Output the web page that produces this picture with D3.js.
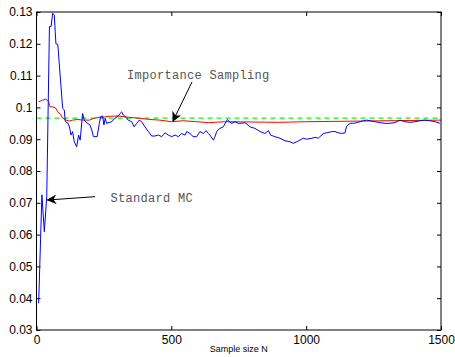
<!DOCTYPE html>
<html><head><meta charset="utf-8">
<script src="https://cdn.jsdelivr.net/npm/d3@7"></script>
<style>body{margin:0;background:#fff}svg{display:block}</style>
</head><body>
<script>
// ---- data ----
const xTicks = [0, 500, 1000, 1500];
const yTicks = [0.03,0.04,0.05,0.06,0.07,0.08,0.09,0.10,0.11,0.12,0.13];
const yTickLabels = ["0.03","0.04","0.05","0.06","0.07","0.08","0.09","0.1","0.11","0.12","0.13"];
const trueValue = 0.0966;

const mcN = [8,20,29,38,48,54,60,66,72,79,97,103,107,116,122,128,134,140,149,156,162,171,177,184,198,205,211,225,233,238,245,250,255,260,279,291,303,310,316,322,332,340,353,362,372,381,390,402,415,427,439,452,464,477,489,501,514,526,538,551,557,569,581,594,606,619,629,637,643,656,662,668,680,693,703,708,715,724,736,748,761,773,792,810,829,847,860,868,884,903,922,940,952,965,977,989,1002,1021,1033,1045,1051,1064,1076,1095,1107,1119,1132,1144,1150,1163,1175,1187,1200,1212,1224,1237,1255,1274,1292,1311,1329,1348,1366,1385,1403,1422,1440,1459,1478,1496];
const mcV = [0.0384,0.0725,0.0609,0.0719,0.1254,0.1254,0.1296,0.129,0.120,0.1198,0.0997,0.0992,0.0955,0.0951,0.0939,0.0913,0.0924,0.0892,0.0876,0.0913,0.0897,0.0981,0.096,0.0953,0.0945,0.0929,0.0908,0.0908,0.095,0.0971,0.0973,0.0945,0.0966,0.095,0.0955,0.0966,0.0973,0.0981,0.0986,0.0976,0.0969,0.096,0.0955,0.0939,0.095,0.096,0.0955,0.0939,0.0924,0.091,0.091,0.0913,0.0908,0.092,0.0913,0.0908,0.0913,0.0908,0.0918,0.0913,0.0924,0.0918,0.0908,0.0908,0.0924,0.0918,0.0927,0.0918,0.0913,0.0897,0.0908,0.0924,0.0934,0.0939,0.0955,0.0962,0.0955,0.095,0.0955,0.095,0.095,0.0952,0.0939,0.0934,0.0924,0.0918,0.0927,0.0913,0.0908,0.0903,0.0895,0.0892,0.0887,0.0892,0.0897,0.0903,0.09,0.0903,0.0906,0.0903,0.0908,0.0918,0.092,0.0924,0.0924,0.092,0.0918,0.092,0.0941,0.095,0.095,0.0952,0.0955,0.0958,0.096,0.0958,0.0955,0.0952,0.095,0.095,0.0952,0.096,0.0955,0.0953,0.0955,0.0958,0.096,0.0958,0.0955,0.095];

const isN = [8,23,35,45,50,60,70,79,91,97,109,122,134,153,171,196,215,233,252,270,303,340,381,420,457,501,544,594,637,700,800,900,1000,1100,1200,1300,1400,1500];
const isV = [0.1018,0.1023,0.1026,0.1018,0.1002,0.1002,0.0999,0.0986,0.0976,0.0966,0.096,0.0957,0.096,0.0962,0.096,0.096,0.0966,0.0969,0.097,0.0972,0.0973,0.0969,0.0966,0.0962,0.096,0.0955,0.0958,0.0955,0.0952,0.0955,0.0954,0.0953,0.0955,0.0956,0.0957,0.0958,0.0959,0.096];

// ---- layout ----
const W = 455, H = 357;
const L = 36.5, R = 441, T = 12, B = 330;
const svg = d3.select("body").append("svg").attr("width", W).attr("height", H);
const x = d3.scaleLinear().domain([0, 1500]).range([L, R]);
const y = d3.scaleLinear().domain([0.03, 0.13]).range([B, T]);

const font = "'Liberation Sans', Arial, Helvetica, sans-serif";
const tk = 4;
function styleAxis(g, showLabels) {
  g.select(".domain").remove();
  g.selectAll(".tick line").attr("stroke", "#000");
  g.selectAll(".tick text").attr("font-family", font).attr("font-size", 12).attr("fill", "#000");
  if (!showLabels) g.selectAll(".tick text").remove();
}
svg.append("g").attr("transform", `translate(${L},0)`)
  .call(d3.axisLeft(y).tickValues(yTicks).tickFormat((d,i)=>yTickLabels[i]).tickSizeInner(-tk).tickSizeOuter(0).tickPadding(4))
  .call(g => styleAxis(g, true));
svg.append("g").attr("transform", `translate(${R},0)`)
  .call(d3.axisRight(y).tickValues(yTicks).tickSizeInner(-tk).tickSizeOuter(0))
  .call(g => styleAxis(g, false));
svg.append("g").attr("transform", `translate(0,${B})`)
  .call(d3.axisBottom(x).tickValues(xTicks).tickFormat(d3.format("d")).tickSizeInner(-tk).tickSizeOuter(0).tickPadding(5))
  .call(g => styleAxis(g, true));
svg.append("g").attr("transform", `translate(0,${T})`)
  .call(d3.axisTop(x).tickValues(xTicks).tickSizeInner(-tk).tickSizeOuter(0))
  .call(g => styleAxis(g, false));

const line = d3.line().x(d => x(d[0])).y(d => y(d[1]));
// green dashed true value
svg.append("path").datum([[0, trueValue],[1500, trueValue]])
  .attr("d", line).attr("fill","none").attr("stroke","#00ff00").attr("stroke-width",1.2).attr("stroke-dasharray","5,4");
// red importance sampling
svg.append("path").datum(isN.map((n,i)=>[n,isV[i]]))
  .attr("d", line).attr("fill","none").attr("stroke","#ff0000").attr("stroke-width",1);
// blue standard MC
svg.append("path").datum(mcN.map((n,i)=>[n,mcV[i]]))
  .attr("d", line).attr("fill","none").attr("stroke","#0000ff").attr("stroke-width",1);

// box
svg.append("rect").attr("x",L).attr("y",T).attr("width",R-L).attr("height",B-T)
  .attr("fill","none").attr("stroke","#000").attr("stroke-width",1);

// x label
svg.append("text").attr("x",(L+R)/2).attr("y",352).attr("text-anchor","middle")
  .attr("font-family",font).attr("font-size",9).text("Sample size N");

// arrows
const defs = svg.append("defs");
defs.append("marker").attr("id","ah").attr("viewBox","0 0 10 10").attr("refX",9).attr("refY",5)
  .attr("markerWidth",10).attr("markerHeight",10).attr("markerUnits","userSpaceOnUse").attr("orient","auto")
  .append("path").attr("d","M0,0 L10,5 L0,10 L3,5 Z").attr("fill","#000");
const mono = "'Liberation Mono', 'Courier New', Courier, monospace";
svg.append("text").attr("x",127).attr("y",79).attr("font-family",mono).attr("font-size",12)
  .attr("letter-spacing",0.3).attr("fill","#555").text("Importance Sampling");
svg.append("line").attr("x1",192).attr("y1",82).attr("x2",173).attr("y2",121)
  .attr("stroke","#000").attr("stroke-width",1).attr("marker-end","url(#ah)");
svg.append("text").attr("x",110.5).attr("y",202).attr("font-family",mono).attr("font-size",12)
  .attr("letter-spacing",0.3).attr("fill","#555").text("Standard MC");
svg.append("line").attr("x1",95).attr("y1",196.7).attr("x2",47.5).attr("y2",200)
  .attr("stroke","#000").attr("stroke-width",1).attr("marker-end","url(#ah)");
</script>
</body></html>
